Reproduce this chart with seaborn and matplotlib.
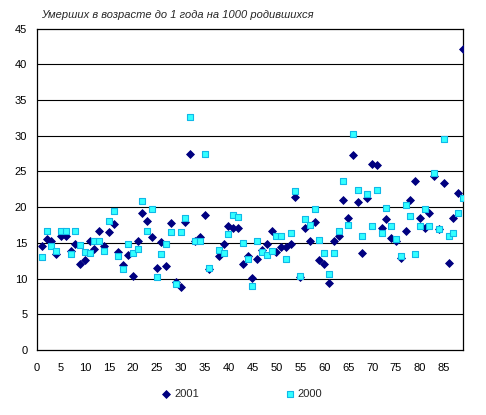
import numpy as np
import pandas as pd
import seaborn as sns
import matplotlib.pyplot as plt

# region numbers (37 has no data)
region = list(range(1, 90))

deaths_2001 = [14.5, 15.5, 15.3, 13.5, 16.0, 15.9, 13.8, 14.8, 12.0, 12.6,
               15.3, 14.1, 16.7, 14.5, 16.5, 17.6, 13.7, 11.9, 13.3, 10.3,
               15.3, 19.2, 18.1, 15.8, 11.5, 15.1, 11.8, 17.8, 9.5, 8.8,
               17.9, 27.4, 15.3, 15.8, 18.9, 11.3, np.nan, 13.2, 14.9, 17.4,
               17.1, 17.1, 12.1, 13.2, 10.1, 12.8, 14.0, 14.9, 16.6, 13.7,
               14.4, 14.4, 14.9, 21.4, 10.2, 17.1, 15.3, 17.9, 12.6, 12.0,
               9.4, 15.2, 16.0, 21.0, 18.5, 27.3, 20.7, 13.6, 21.3, 26.0,
               25.9, 17.1, 18.4, 15.7, 15.3, 12.9, 16.7, 21.0, 23.7, 18.5,
               17.1, 19.2, 24.3, 16.9, 23.4, 12.2, 18.5, 22.0, 42.1]

deaths_2000 = [13.0, 16.6, 14.5, 13.9, 16.6, 16.6, 13.4, 16.7, 14.7, 13.7,
               13.6, 15.3, 15.3, 13.9, 18.1, 19.5, 13.2, 11.3, 14.8, 13.6,
               14.1, 20.9, 16.7, 19.7, 10.2, 13.4, 14.8, 16.5, 9.3, 16.5,
               18.5, 32.6, 15.3, 15.2, 27.5, 11.5, np.nan, 14.0, 13.6, 16.3,
               18.9, 18.6, 15.0, 12.7, 8.9, 15.2, 13.7, 13.3, 13.9, 16.0,
               16.0, 12.8, 16.4, 22.3, 10.4, 18.4, 17.5, 19.7, 15.4, 13.6,
               10.6, 13.6, 16.7, 23.6, 17.5, 30.2, 22.4, 16.0, 21.8, 17.4,
               22.4, 16.4, 19.9, 17.4, 15.6, 13.2, 20.3, 18.8, 13.5, 17.4,
               19.8, 17.4, 24.8, 17.0, 29.6, 16.0, 16.4, 19.2, 21.3]

df = pd.DataFrame({'region': region, '2001': deaths_2001, '2000': deaths_2000})

sns.set_theme(style='white')
plt.rcParams['font.family'] = ['Liberation Sans', 'DejaVu Sans']

fig = plt.figure(figsize=(4.86, 4.15), dpi=100)
ax = fig.add_axes([37 / 486, 1 - 350 / 415, 426 / 486, 321.4 / 415])

sns.scatterplot(data=df, x='region', y='2001', marker='D', s=16, color='#000080',
                edgecolor='#000080', linewidth=0.6, label='2001', ax=ax, zorder=3)
sns.scatterplot(data=df, x='region', y='2000', marker='s', s=22, color='#33ffff',
                edgecolor='#10b8e8', linewidth=0.8, label='2000', ax=ax, zorder=4)

ax.set_xlim(0, 89)
ax.set_ylim(0, 45)
ax.set_xticks(range(0, 90, 5))
ax.set_yticks(range(0, 50, 5))
ax.set_xlabel('')
ax.set_ylabel('')
ax.tick_params(axis='both', length=0, labelsize=8, colors='black')
ax.tick_params(axis='x', pad=9)
ax.tick_params(axis='y', pad=7)
for y in range(5, 45, 5):
    ax.axhline(y, color='black', linewidth=0.8, zorder=1)
for sp in ax.spines.values():
    sp.set_color('black')
    sp.set_linewidth(0.9)

ax.legend_.remove()
handles, labels = ax.get_legend_handles_labels()
fig.legend(handles, labels, loc='center', bbox_to_anchor=(242 / 486, 1 - 394 / 415),
           ncol=2, frameon=False, fontsize=8, handlelength=0.8, handletextpad=0.3,
           columnspacing=7.8, markerscale=1.0)

fig.text(41 / 486, 1 - 15 / 415, 'Умерших в возрасте до 1 года на 1000 родившихся',
         fontsize=8, style='italic', va='center', ha='left')

plt.savefig('out.png', dpi=100)
